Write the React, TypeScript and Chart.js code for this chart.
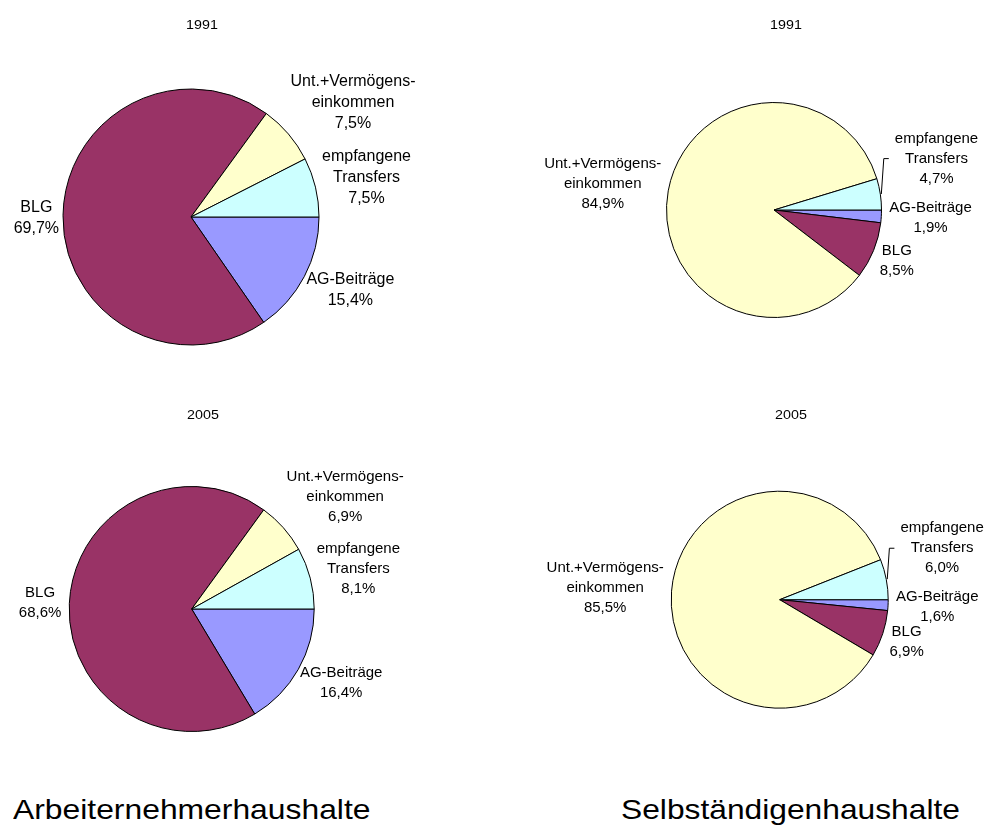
import React, { useEffect, useRef } from "react";
import { Chart, registerables } from "chart.js";

Chart.register(...registerables);

// ---- data ----
const categories: string[][] = [
  ["AG-Beiträge"],
  ["BLG"],
  ["Unt.+Vermögens-", "einkommen"],
  ["empfangene", "Transfers"],
];
const colors = ["#9999FF", "#993366", "#FFFFCC", "#CCFFFF"];

const arbeitnehmer1991 = [15.4, 69.7, 7.5, 7.5];
const arbeitnehmer2005 = [16.4, 68.6, 6.9, 8.1];
const selbstaendige1991 = [1.9, 8.5, 84.9, 4.7];
const selbstaendige2005 = [1.6, 6.9, 85.5, 6.0];

const years = ["1991", "2005"];
const groupTitles = ["Arbeiternehmerhaushalte", "Selbständigenhaushalte"];

const FONT = '"Liberation Sans", Arial, sans-serif';

const fmt = (v: number) => v.toFixed(1).replace(".", ",") + "%";

type Shift = { dx: number; dy: number; leader?: boolean };

const outLabels = {
  id: "outLabels",
  afterDatasetsDraw(chart: any, _args: any, opts: any) {
    const ctx: CanvasRenderingContext2D = chart.ctx;
    const meta = chart.getDatasetMeta(0);
    const data: number[] = chart.data.datasets[0].data;
    ctx.save();
    ctx.font = `${opts.fontSize}px ${FONT}`;
    ctx.fillStyle = "#000";
    ctx.strokeStyle = "#000";
    ctx.lineWidth = 1;
    ctx.textAlign = "center";
    ctx.textBaseline = "middle";
    meta.data.forEach((arc: any, i: number) => {
      const p = arc.getProps(["x", "y", "startAngle", "endAngle", "outerRadius"], true);
      const mid = (p.startAngle + p.endAngle) / 2;
      const c = Math.cos(mid);
      const s = Math.sin(mid);
      const lines = [...categories[i], fmt(data[i])];
      const L = opts.lineHeight;
      const w = Math.max(...lines.map((t) => ctx.measureText(t).width));
      const h = lines.length * L;
      const ax = p.x + (p.outerRadius + opts.gap) * c;
      const ay = p.y + (p.outerRadius + opts.gap) * s;
      let bx = ax + (c * w) / 2;
      let by = ay + (s * h) / 2;
      const sh: Shift | undefined = opts.shifts ? opts.shifts[i] : undefined;
      if (sh) {
        bx += sh.dx;
        by += sh.dy;
        if (sh.leader) {
          const sx = p.x + (p.outerRadius + 1) * c;
          const sy = p.y + (p.outerRadius + 1) * s;
          const left = bx - w / 2;
          ctx.beginPath();
          ctx.moveTo(sx, sy);
          ctx.lineTo(left - 11, by);
          ctx.lineTo(left - 6, by);
          ctx.stroke();
        }
      }
      lines.forEach((t, k) => {
        ctx.fillText(t, bx, by + (k - (lines.length - 1) / 2) * L);
      });
    });
    ctx.restore();
  },
};

type PieSpec = {
  values: number[];
  ox: number;
  oy: number;
  W: number;
  H: number;
  cx: number;
  cy: number;
  r: number;
  fontSize: number;
  lineHeight: number;
  shifts?: Record<number, Shift>;
};

const pies: PieSpec[] = [
  {
    values: arbeitnehmer1991, ox: 0, oy: 0, W: 493, H: 400, cx: 191, cy: 217, r: 128, fontSize: 16, lineHeight: 21,
    shifts: { 1: { dx: 4, dy: 3 }, 2: { dx: 11, dy: -6 } },
  },
  {
    values: selbstaendige1991, ox: 493, oy: 0, W: 493, H: 400, cx: 774, cy: 210, r: 107.5, fontSize: 15, lineHeight: 20,
    shifts: { 3: { dx: 7, dy: -30, leader: true } },
  },
  {
    values: arbeitnehmer2005, ox: 0, oy: 400, W: 493, H: 390, cx: 191.7, cy: 609, r: 122.5, fontSize: 15, lineHeight: 20,
    shifts: { 2: { dx: 12, dy: -6 } },
  },
  {
    values: selbstaendige2005, ox: 493, oy: 400, W: 493, H: 390, cx: 779.7, cy: 599.7, r: 108.5, fontSize: 15, lineHeight: 20,
    shifts: { 3: { dx: 7, dy: -24, leader: true } },
  },
];

function Pie({ spec }: { spec: PieSpec }) {
  const ref = useRef<HTMLCanvasElement>(null);
  useEffect(() => {
    if (!ref.current) return;
    const lx = spec.cx - spec.ox;
    const ly = spec.cy - spec.oy;
    const chart = new Chart(ref.current, {
      type: "pie",
      data: {
        labels: categories.map((c) => c.join(" ")),
        datasets: [
          {
            data: spec.values,
            backgroundColor: colors,
            borderColor: "#000",
            borderWidth: 1,
            radius: spec.r,
          } as any,
        ],
      },
      options: {
        responsive: false,
        animation: false,
        rotation: 90,
        layout: {
          padding: {
            left: lx - spec.r,
            right: spec.W - lx - spec.r,
            top: ly - spec.r,
            bottom: spec.H - ly - spec.r,
          },
        },
        plugins: {
          legend: { display: false },
          tooltip: { enabled: false },
          outLabels: {
            fontSize: spec.fontSize,
            lineHeight: spec.lineHeight,
            gap: 8,
            shifts: spec.shifts,
          },
        } as any,
      },
      plugins: [outLabels as any],
    });
    return () => chart.destroy();
  }, [spec]);
  return (
    <canvas
      ref={ref}
      width={spec.W}
      height={spec.H}
      style={{ position: "absolute", left: spec.ox, top: spec.oy, width: spec.W, height: spec.H }}
    />
  );
}

const yearPos = [
  { x: 202, y: 17.3, t: years[0] },
  { x: 786, y: 17.3, t: years[0] },
  { x: 203, y: 407.3, t: years[1] },
  { x: 790.7, y: 407.3, t: years[1] },
];

const titlePos = [
  { x: 13, sx: 1.137, t: groupTitles[0] },
  { x: 621, sx: 1.134, t: groupTitles[1] },
];

export default function App() {
  return (
    <div
      style={{
        position: "absolute",
        left: 0,
        top: 0,
        width: 986,
        height: 827,
        background: "#fff",
        overflow: "hidden",
        fontFamily: FONT,
        color: "#000",
      }}
    >
      {pies.map((p, i) => (
        <Pie key={i} spec={p} />
      ))}
      {yearPos.map((y, i) => (
        <div
          key={"y" + i}
          style={{
            position: "absolute",
            left: y.x - 50,
            top: y.y,
            width: 100,
            textAlign: "center",
            fontSize: 13,
            lineHeight: "15px",
            transform: "scaleX(1.1)",
          }}
        >
          {y.t}
        </div>
      ))}
      {titlePos.map((t, i) => (
        <div
          key={"t" + i}
          style={{
            position: "absolute",
            left: t.x,
            top: 794.3,
            fontSize: 28,
            lineHeight: "32px",
            whiteSpace: "nowrap",
            transform: `scaleX(${t.sx})`,
            transformOrigin: "left center",
          }}
        >
          {t.t}
        </div>
      ))}
    </div>
  );
}
